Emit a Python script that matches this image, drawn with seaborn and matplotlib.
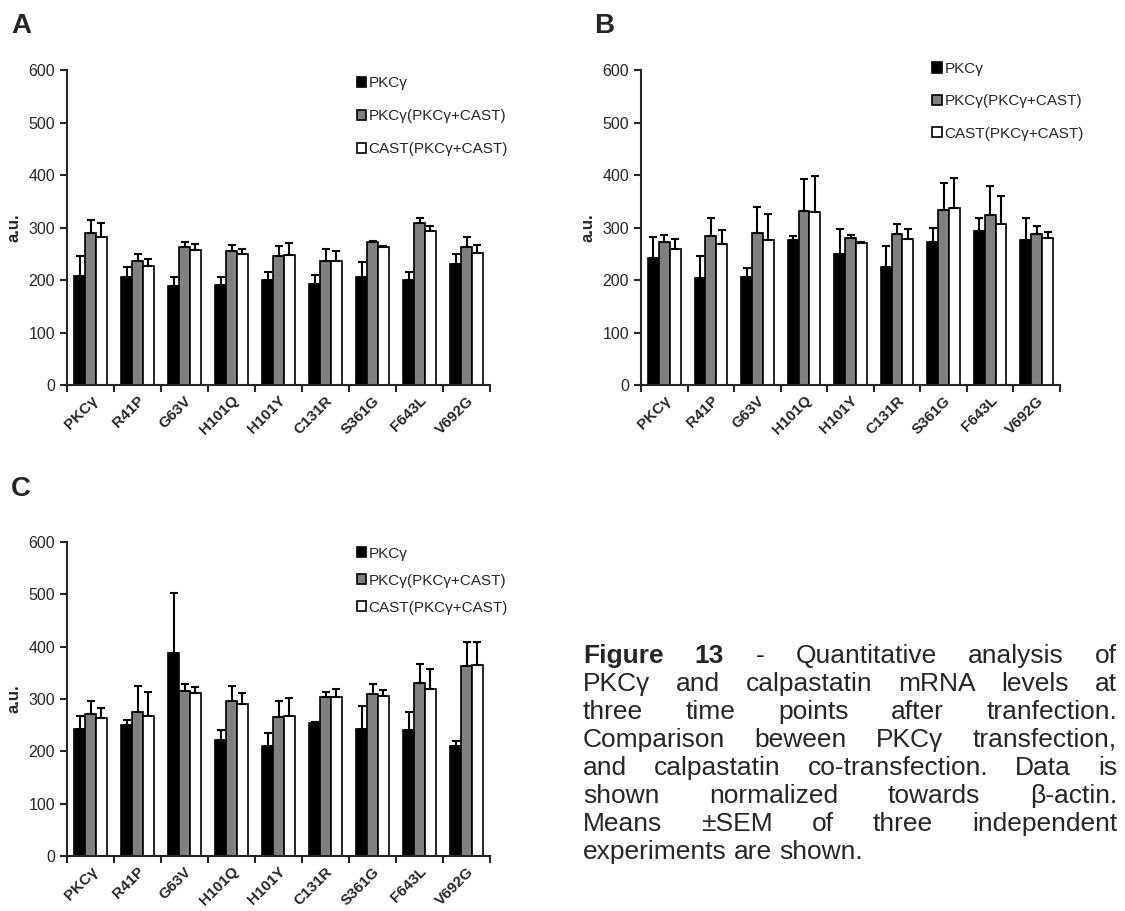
import matplotlib
matplotlib.use("Agg")
from matplotlib import pyplot as plt
from matplotlib.patches import Patch
from matplotlib.ticker import FixedLocator
import seaborn as sns
import pandas as pd
import numpy as np

mutants = ["PKCγ", "R41P", "G63V", "H101Q", "H101Y", "C131R", "S361G", "F643L", "V692G"]
series = ["PKCγ", "PKCγ(PKCγ+CAST)", "CAST(PKCγ+CAST)"]

# panel A
a_pkc = [207, 205, 189, 191, 200, 192, 206, 200, 231]
a_pkc_sem = [38, 19, 16, 14, 15, 18, 28, 16, 18]
a_pkc_co = [289, 236, 262, 256, 246, 237, 272, 308, 262]
a_pkc_co_sem = [26, 14, 11, 10, 19, 22, 3, 10, 20]
a_cast = [282, 227, 258, 249, 247, 237, 262, 294, 252]
a_cast_sem = [27, 13, 11, 11, 23, 19, 2, 8, 15]

# panel B
b_pkc = [242, 204, 206, 276, 250, 225, 272, 293, 276]
b_pkc_sem = [39, 41, 16, 8, 47, 39, 28, 26, 43]
b_pkc_co = [273, 284, 290, 332, 280, 287, 333, 323, 288]
b_pkc_co_sem = [13, 34, 49, 60, 5, 19, 52, 57, 14]
b_cast = [259, 269, 277, 330, 271, 279, 337, 307, 280]
b_cast_sem = [20, 27, 48, 69, 2, 19, 57, 53, 12]

# panel C
c_pkc = [243, 250, 388, 221, 210, 255, 242, 240, 211]
c_pkc_sem = [25, 10, 115, 20, 25, 1, 45, 35, 8]
c_pkc_co = [271, 276, 315, 297, 265, 303, 309, 330, 364]
c_pkc_co_sem = [25, 48, 14, 27, 32, 10, 20, 36, 44]
c_cast = [263, 268, 312, 290, 267, 303, 306, 320, 365]
c_cast_sem = [20, 45, 10, 21, 34, 17, 12, 37, 43]

colors = ["#000000", "#808080", "#ffffff"]

sns.set_style("ticks")
plt.rcParams['font.family'] = ['Liberation Sans', 'DejaVu Sans']

fig = plt.figure(figsize=(11.25, 9.11), dpi=100)
W, H = 1125, 911


def px_axes(left, top, right, bottom):
    return fig.add_axes([left / W, 1 - bottom / H, (right - left) / W, (bottom - top) / H])


def draw_panel(ax, means, sems, leg_anchor, leg_spacing):
    df = pd.DataFrame({
        "mutant": np.tile(mutants, 3),
        "series": np.repeat(series, len(mutants)),
        "value": np.concatenate(means),
    })
    sns.barplot(data=df, x="mutant", y="value", hue="series", hue_order=series,
                order=mutants, palette=colors, width=0.7, gap=0, errorbar=None,
                edgecolor="black", linewidth=1.2, saturation=1, ax=ax, legend=False)
    for cont, sem in zip(ax.containers, sems):
        xs = [p.get_x() + p.get_width() / 2 for p in cont.patches]
        hs = [p.get_height() for p in cont.patches]
        ax.errorbar(xs, hs, yerr=[np.zeros(len(sem)), sem], fmt="none", ecolor="black",
                    elinewidth=1.5, capsize=3, capthick=1.5, zorder=5)
    ax.set_ylim(0, 600)
    ax.set_xlim(-0.5, len(mutants) - 0.5)
    ax.set_yticks([0, 100, 200, 300, 400, 500, 600])
    ax.tick_params(axis="y", labelsize=11.5, length=5, width=1.5, direction="out")
    ax.tick_params(axis="x", which="major", length=0, pad=6)
    ax.xaxis.set_minor_locator(FixedLocator(np.arange(-0.5, len(mutants), 1.0)))
    ax.tick_params(axis="x", which="minor", length=5, width=1.5, direction="out")
    ax.set_xticks(range(len(mutants)))
    ax.set_xticklabels(mutants, rotation=45, ha="right", rotation_mode="anchor",
                       fontsize=11, fontweight="bold")
    ax.set_xlabel("")
    ax.set_ylabel("a.u.", fontsize=12, fontweight="bold", labelpad=5)
    for s in ["left", "bottom"]:
        ax.spines[s].set_linewidth(1.5)
    sns.despine(ax=ax)
    handles = [Patch(facecolor=c, edgecolor="black", linewidth=1.2) for c in colors]
    ax.legend(handles, series, loc="upper left", bbox_to_anchor=leg_anchor, frameon=False,
              fontsize=11, handlelength=0.65, handleheight=0.65, handletextpad=0.15,
              labelspacing=leg_spacing, borderaxespad=0)


ax_a = px_axes(67, 70, 490, 385)
draw_panel(ax_a, [a_pkc, a_pkc_co, a_cast], [a_pkc_sem, a_pkc_co_sem, a_cast_sem], (0.67, 1.0), 1.25)
ax_b = px_axes(641, 70, 1060, 385)
draw_panel(ax_b, [b_pkc, b_pkc_co, b_cast], [b_pkc_sem, b_pkc_co_sem, b_cast_sem], (0.68, 1.045), 1.2)
ax_c = px_axes(67, 542, 490, 856)
draw_panel(ax_c, [c_pkc, c_pkc_co, c_cast], [c_pkc_sem, c_pkc_co_sem, c_cast_sem], (0.67, 1.005), 0.85)

fig.text(11 / W, 1 - 33 / H, "A", fontsize=20, fontweight="bold")
fig.text(594 / W, 1 - 33 / H, "B", fontsize=20, fontweight="bold")
fig.text(11 / W, 1 - 496 / H, "C", fontsize=20, fontweight="bold")

# justified caption
caption = [
    [("Figure", "bold"), ("13", "bold"), ("-", "normal"), ("Quantitative", "normal"), ("analysis", "normal"), ("of", "normal")],
    "PKCγ and calpastatin mRNA levels at",
    "three time points after tranfection.",
    "Comparison beween PKCγ transfection,",
    "and calpastatin co-transfection. Data is",
    "shown normalized towards β-actin.",
    "Means ±SEM of three independent",
    "experiments are shown.",
]
x_left, x_right = 583, 1117
y0, dy = 663, 28
renderer = fig.canvas.get_renderer()
for i, line in enumerate(caption):
    if isinstance(line, str):
        words = [(w, "normal") for w in line.split()]
    else:
        words = line
    y = 1 - (y0 + i * dy) / H
    texts = [fig.text(0, y, w, fontsize=19, fontweight=fw, va="baseline") for w, fw in words]
    widths = [t.get_window_extent(renderer).width for t in texts]
    if i == len(caption) - 1:
        space = texts[0].get_fontsize() * 0.278 * 100 / 72
    else:
        space = (x_right - x_left - sum(widths)) / (len(words) - 1)
    x = x_left
    for t, w in zip(texts, widths):
        t.set_x(x / W)
        x += w + space

fig.savefig("out.png", dpi=100)
